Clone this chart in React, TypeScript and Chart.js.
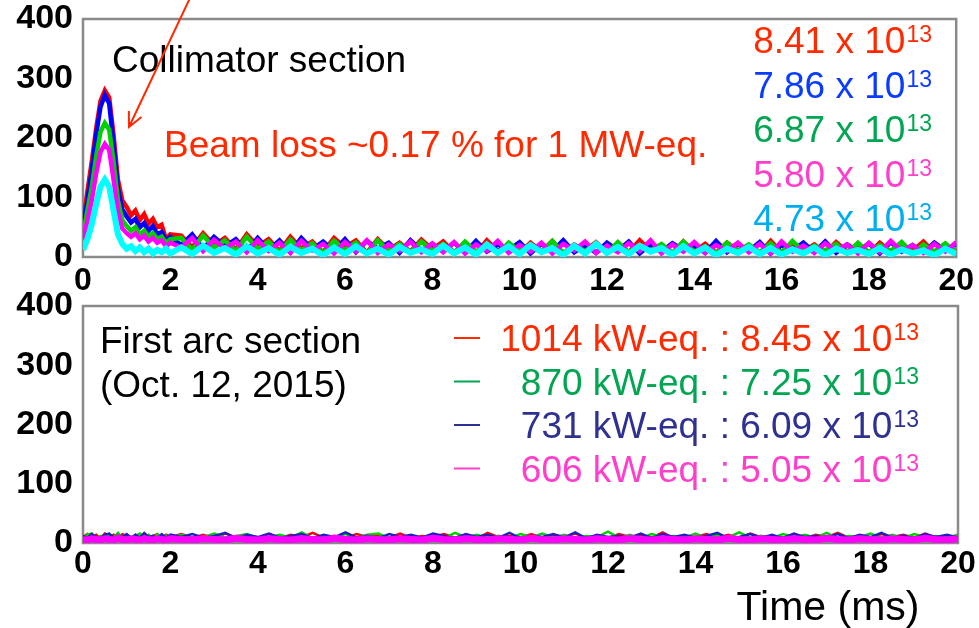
import React, { useEffect, useRef } from 'react';
import { Chart, registerables } from 'chart.js';
Chart.register(...registerables);

const FONT = '"Liberation Sans", Arial, Helvetica, sans-serif';

// time axis (ms)
const times = [
  0, 0.1, 0.2, 0.3, 0.4, 0.5, 0.6, 0.7, 0.8, 0.9,
  1.0, 1.1, 1.2, 1.3, 1.4, 1.5, 1.6, 1.7, 1.8, 1.9,
  2.0,
  2.25, 2.5, 2.75, 3, 3.25, 3.5, 3.75, 4,
  4.25, 4.5, 4.75, 5, 5.25, 5.5, 5.75, 6, 6.25, 6.5, 6.75, 7, 7.25, 7.5, 7.75, 8,
  8.25, 8.5, 8.75, 9, 9.25, 9.5, 9.75, 10, 10.25, 10.5, 10.75, 11, 11.25, 11.5, 11.75, 12,
  12.25, 12.5, 12.75, 13, 13.25, 13.5, 13.75, 14, 14.25, 14.5, 14.75, 15, 15.25, 15.5, 15.75, 16,
  16.25, 16.5, 16.75, 17, 17.25, 17.5, 17.75, 18, 18.25, 18.5, 18.75, 19, 19.25, 19.5, 19.75, 20,
];

// Collimator section (top panel)
const collRed = [
  55, 110, 160, 215, 262, 280, 268, 205, 130, 95, 84, 70, 78, 62, 72, 56, 64, 50, 54, 30, 38,
  36, 16, 40, 20, 32, 12, 38, 18,
  30, 10, 34, 14, 26, 8, 32, 16, 28, 7, 30, 12, 24, 9, 29, 13,
  26, 8, 22, 6, 28, 10, 20, 7, 24, 9, 27, 6, 21, 11, 25, 7, 23, 8, 28, 10,
  19, 6, 26, 9, 22, 7, 24, 11, 20, 6, 27, 8, 23, 10, 21, 7, 25, 9, 19, 6,
  24, 8, 22, 10, 26, 7, 20, 9,
];
const collBlue = [
  45, 95, 145, 205, 252, 272, 258, 190, 115, 80, 68, 58, 64, 50, 57, 44, 52, 38, 42, 28, 34,
  20, 38, 14, 34, 18, 30, 10, 32,
  12, 28, 8, 32, 13, 26, 10, 30, 8, 27, 14, 24, 7, 28, 11, 22,
  10, 24, 7, 27, 9, 21, 12, 25, 6, 22, 10, 28, 8, 20, 7, 24, 11, 26, 6, 21,
  9, 23, 12, 19, 7, 27, 8, 22, 10, 25, 6, 20, 11, 24, 8, 26, 7, 21, 10, 23,
  6, 25, 9, 20, 8, 24, 11, 22,
];
const collGreen = [
  38, 78, 118, 168, 210, 225, 214, 160, 95, 62, 52, 44, 50, 38, 44, 34, 40, 30, 34, 24, 30,
  32, 12, 36, 16, 28, 10, 34, 14,
  26, 8, 29, 11, 23, 7, 27, 12, 24, 6, 28, 10, 22, 8, 26, 11,
  22, 7, 26, 9, 20, 6, 24, 10, 21, 8, 27, 7, 19, 10, 23, 6, 25, 8, 20, 11,
  22, 7, 26, 9, 18, 6, 24, 10, 21, 8, 23, 7, 27, 9, 19, 11, 22, 6, 24, 8,
  20, 10, 25, 7, 21, 9, 23, 8,
];
const collMagenta = [
  30, 60, 95, 140, 176, 190, 180, 130, 75, 48, 40, 34, 40, 30, 36, 26, 32, 24, 28, 18, 24,
  16, 32, 10, 29, 14, 26, 8, 28,
  10, 24, 7, 27, 11, 22, 6, 25, 9, 28, 7, 21, 10, 26, 8, 23,
  8, 25, 6, 21, 10, 27, 7, 20, 9, 24, 6, 22, 11, 26, 7, 19, 8, 23, 10, 28,
  6, 21, 9, 25, 7, 20, 10, 24, 8, 22, 6, 26, 9, 19, 7, 23, 11, 21, 6, 24,
  8, 27, 10, 20, 7, 22, 9, 25,
];
const collCyan = [
  12, 30, 55, 88, 118, 130, 118, 78, 38, 22, 14, 18, 10, 16, 8, 14, 6, 12, 8, 14, 6,
  16, 5, 19, 7, 15, 4, 18, 6,
  15, 4, 17, 7, 14, 3, 16, 5, 18, 6, 14, 4, 17, 7, 13, 5,
  19, 6, 16, 4, 21, 7, 18, 5, 20, 8, 15, 3, 19, 6, 22, 7, 17, 5, 19, 9,
  15, 4, 18, 6, 16, 3, 14, 7, 17, 5, 15, 4, 13, 6, 16, 3, 14, 7, 12, 5,
  15, 4, 13, 6, 11, 3, 14, 5,
];

// First arc section (bottom panel)
const arcRed = [
  10, 15, 9, 14, 8, 16, 10, 14, 9, 15, 12, 8, 14, 10, 16, 9, 12, 15, 8, 14,
  10, 15, 9, 14, 8, 16, 10, 12, 9, 15, 8, 14, 10, 17, 9, 12, 8, 15, 10, 14,
  9, 16, 8, 12, 10, 15, 9, 14, 8, 17, 10, 12, 9, 15, 8, 14, 10, 16, 9, 12,
  8, 15, 10, 14, 9, 18, 8, 12, 10, 15, 9, 14, 8, 16, 10, 12, 9, 15, 8, 14,
  10, 17, 9, 12, 8, 15, 10, 14, 9, 16, 8, 12, 10,
];
const arcGreen = [
  9, 14, 16, 8, 12, 10, 15, 9, 17, 8, 14, 10, 12, 16, 9, 14, 8, 15, 10, 12,
  9, 14, 8, 10, 16, 9, 12, 15, 8, 10, 14, 9, 18, 8, 12, 10, 15, 9, 14, 16,
  8, 10, 12, 9, 15, 8, 17, 10, 14, 9, 12, 8, 15, 10, 16, 9, 14, 8, 12, 10,
  19, 9, 14, 8, 15, 10, 12, 9, 16, 8, 14, 10, 18, 9, 12, 8, 15, 10, 14, 9,
  17, 8, 12, 10, 16, 9, 14, 8, 15, 10, 12, 9, 14,
];
const arcNavy = [
  12, 9, 15, 10, 8, 14, 16, 9, 12, 10, 15, 8, 14, 9, 17, 10, 12, 8, 15, 9,
  14, 10, 15, 9, 12, 17, 8, 14, 10, 16, 9, 12, 15, 8, 14, 10, 18, 9, 12, 8,
  15, 10, 14, 9, 16, 12, 8, 15, 10, 14, 9, 17, 8, 12, 10, 15, 9, 18, 8, 14,
  10, 12, 9, 16, 8, 15, 10, 14, 9, 12, 17, 8, 10, 15, 9, 14, 8, 16, 10, 12,
  9, 15, 8, 14, 10, 17, 9, 12, 8, 15, 10, 14, 9,
];
const arcMagenta = [
  6, 5, 7, 6, 5, 7, 6, 5, 8, 6, 5, 7, 6, 5, 7, 6, 5, 7, 6, 5,
  7, 6, 5, 7, 6, 5, 8, 6, 5, 7, 6, 5, 7, 6, 5, 8, 6, 5, 7, 6,
  5, 7, 6, 5, 8, 6, 5, 7, 6, 5, 7, 6, 5, 8, 6, 5, 7, 6, 5, 7,
  6, 5, 8, 6, 5, 7, 6, 5, 7, 6, 5, 8, 6, 5, 7, 6, 5, 7, 6, 5,
  8, 6, 5, 7, 6, 5, 7, 6, 5, 8, 6, 5, 7,
];

// text
const collTitle = 'Collimator section';
const collNote = 'Beam loss ~0.17 % for 1 MW-eq.';
const collLabels = ['8.41 x 10', '7.86 x 10', '6.87 x 10', '5.80 x 10', '4.73 x 10'];
const collLabelColors = ['#ff2a00', '#0a3cff', '#00a651', '#ff3fcc', '#00aeef'];
const arcTitle = ['First arc section', '(Oct. 12, 2015)'];
const arcLabels = ['1014 kW-eq. : 8.45 x 10', '870 kW-eq. : 7.25 x 10', '731 kW-eq. : 6.09 x 10', '606 kW-eq. : 5.05 x 10'];
const arcLabelColors = ['#ff2a00', '#00a651', '#2e3192', '#ff3fcc'];
const supText = '13';
const xTitle = 'Time (ms)';

const toPts = (vals: number[]) => vals.map((v, i) => ({ x: times[i], y: v }));

function ds(vals: number[], color: string, order: number, width = 4.5) {
  return {
    data: toPts(vals),
    borderColor: color,
    backgroundColor: color,
    borderWidth: width,
    pointRadius: 0,
    tension: 0,
    fill: false,
    order,
  };
}

function drawSup(ctx: CanvasRenderingContext2D, main: string, rightX: number, base: number, color: string) {
  ctx.font = `37px ${FONT}`;
  const w1 = ctx.measureText(main).width;
  ctx.font = `23px ${FONT}`;
  const w2 = ctx.measureText(supText).width;
  const x0 = rightX - w1 - w2;
  ctx.fillStyle = color;
  ctx.textAlign = 'left';
  ctx.textBaseline = 'alphabetic';
  ctx.font = `37px ${FONT}`;
  ctx.fillText(main, x0, base);
  ctx.font = `23px ${FONT}`;
  ctx.fillText(supText, x0 + w1 + 1, base - 11);
}

function frame(chart: any) {
  const { ctx, chartArea: a } = chart;
  ctx.save();
  ctx.strokeStyle = '#8a8a8a';
  ctx.lineWidth = 2.5;
  ctx.strokeRect(a.left, a.top, a.right - a.left, a.bottom - a.top);
  ctx.restore();
}

function baseOptions(padding: any, xHeight: number, xPad: number) {
  return {
    responsive: false,
    animation: false as const,
    layout: { padding },
    plugins: { legend: { display: false }, tooltip: { enabled: false } },
    scales: {
      x: {
        type: 'linear' as const,
        min: 0,
        max: 20,
        ticks: { stepSize: 2, color: '#000', font: { size: 32, weight: 'bold' as const, family: FONT }, padding: xPad, maxRotation: 0, autoSkip: false },
        grid: { display: false, drawTicks: false },
        border: { display: false },
        afterFit: (s: any) => { s.height = xHeight; },
      },
      y: {
        min: 0,
        max: 400,
        ticks: { stepSize: 100, color: '#000', font: { size: 34, weight: 'bold' as const, family: FONT }, padding: 10 },
        grid: { display: false, drawTicks: false },
        border: { display: false },
        afterFit: (s: any) => { s.width = 83; s.paddingTop = 0; s.paddingBottom = 0; },
      },
    },
  };
}

export default function App() {
  const topRef = useRef<HTMLCanvasElement>(null);
  const botRef = useRef<HTMLCanvasElement>(null);

  useEffect(() => {
    const topDeco = {
      id: 'topDeco',
      beforeDatasetsDraw: (chart: any) => frame(chart),
      afterDraw: (chart: any) => {
        const ctx = chart.ctx as CanvasRenderingContext2D;
        ctx.save();
        ctx.textBaseline = 'alphabetic';
        ctx.textAlign = 'left';
        ctx.font = `37px ${FONT}`;
        ctx.fillStyle = '#000';
        ctx.fillText(collTitle, 112, 72);
        ctx.fillStyle = '#ff2a00';
        ctx.fillText(collNote, 164, 157);
        // arrow
        const sx = 190, sy = -2, tx = 129, ty = 127;
        ctx.strokeStyle = '#ff2a00';
        ctx.lineWidth = 2;
        ctx.beginPath();
        ctx.moveTo(sx, sy);
        ctx.lineTo(tx, ty);
        const ang = Math.atan2(sy - ty, sx - tx);
        const hl = 16, spread = 0.45;
        ctx.moveTo(tx + hl * Math.cos(ang + spread), ty + hl * Math.sin(ang + spread));
        ctx.lineTo(tx, ty);
        ctx.lineTo(tx + hl * Math.cos(ang - spread), ty + hl * Math.sin(ang - spread));
        ctx.stroke();
        collLabels.forEach((t, i) => drawSup(ctx, t, 931, 53 + i * 44.5, collLabelColors[i]));
        ctx.restore();
      },
    };
    const botDeco = {
      id: 'botDeco',
      beforeDatasetsDraw: (chart: any) => frame(chart),
      afterDraw: (chart: any) => {
        const ctx = chart.ctx as CanvasRenderingContext2D;
        ctx.save();
        ctx.textBaseline = 'alphabetic';
        ctx.textAlign = 'left';
        ctx.font = `37px ${FONT}`;
        ctx.fillStyle = '#000';
        ctx.fillText(arcTitle[0], 100, 63);
        ctx.fillText(arcTitle[1], 100, 107);
        arcLabels.forEach((t, i) => {
          const base = 61 + i * 43.5;
          ctx.strokeStyle = arcLabelColors[i];
          ctx.lineWidth = 2;
          ctx.beginPath();
          ctx.moveTo(454, base - 13);
          ctx.lineTo(480, base - 13);
          ctx.stroke();
          drawSup(ctx, t, 918, base, arcLabelColors[i]);
        });
        ctx.fillStyle = '#000';
        ctx.textAlign = 'center';
        ctx.font = `41px ${FONT}`;
        ctx.fillText(xTitle, 828, 330);
        ctx.restore();
      },
    };

    const c1 = new Chart(topRef.current as HTMLCanvasElement, {
      type: 'line',
      data: {
        datasets: [
          ds(collRed, '#ff0000', 4),
          ds(collBlue, '#0000ff', 3),
          ds(collGreen, '#00d000', 2),
          ds(collMagenta, '#ff00ff', 1),
          ds(collCyan, '#00ffff', 0, 6),
        ] as any,
      },
      options: baseOptions({ left: 0, top: 19, right: 21, bottom: 0 }, 43, 5) as any,
      plugins: [topDeco],
    });
    const c2 = new Chart(botRef.current as HTMLCanvasElement, {
      type: 'line',
      data: {
        datasets: [
          ds(arcRed, '#ff0000', 3, 2.5),
          ds(arcGreen, '#00d000', 2, 2.5),
          ds(arcNavy, '#2020c0', 1, 2.5),
          ds(arcMagenta, '#ff00ff', 0, 7),
        ] as any,
      },
      options: baseOptions({ left: 0, top: 16, right: 21, bottom: 45 }, 40, 2) as any,
      plugins: [botDeco],
    });
    return () => {
      c1.destroy();
      c2.destroy();
    };
  }, []);

  return (
    <div style={{ position: 'absolute', left: 0, top: 0, width: 979, height: 628, background: '#fff', overflow: 'hidden' }}>
      <canvas ref={topRef} width={979} height={300} style={{ position: 'absolute', left: 0, top: 0 }} />
      <canvas ref={botRef} width={979} height={338} style={{ position: 'absolute', left: 0, top: 290 }} />
    </div>
  );
}
